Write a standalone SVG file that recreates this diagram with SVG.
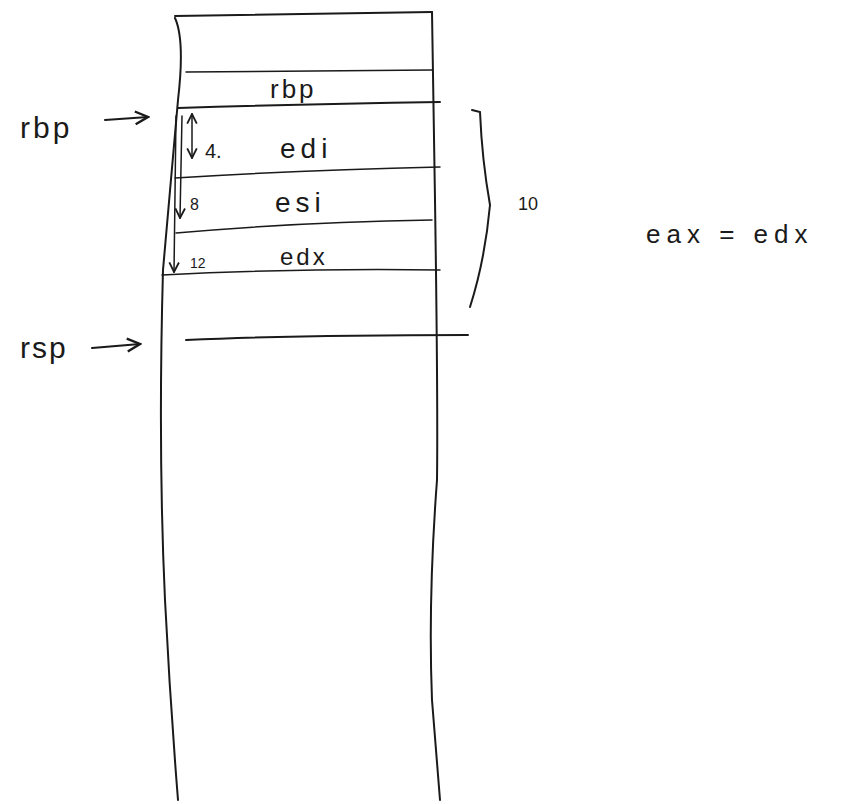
<svg xmlns="http://www.w3.org/2000/svg" width="844" height="804" viewBox="0 0 844 804">
<style>
.ln{fill:none;stroke:#1a1a1a;stroke-width:2;stroke-linecap:round}
.thin{fill:none;stroke:#1a1a1a;stroke-width:1.5;stroke-linecap:round}
.t{font-family:"Liberation Sans",Arial,sans-serif;fill:#1a1a1a}
</style>
<defs>
<marker id="ah" viewBox="0 0 10 10" refX="9" refY="5" markerWidth="8" markerHeight="8" orient="auto-start-reverse">
<path d="M1,1 L9,5 L1,9" fill="none" stroke="#1a1a1a" stroke-width="1.5"/>
</marker>
</defs>
<rect width="844" height="804" fill="#ffffff"/>
<g id="stack">
<path class="ln" d="M175,18 Q185,40 178,100 L163,270 Q158,450 165,600 Q170,700 178,800"/>
<path class="ln" d="M432,12 L435,200 Q438,400 437,480 Q428,600 432,700 L440,800"/>
<path class="ln" d="M175,16 L432,12"/>
<path class="thin" d="M186,72 L432,70"/>
<path class="ln" d="M178,108 Q300,104 440,102"/>
<path class="thin" d="M175,178 Q300,170 440,167"/>
<path class="thin" d="M176,233 Q300,222 432,220"/>
<path class="thin" d="M162,275 Q300,268 440,270"/>
<path class="ln" d="M186,340 Q300,335 468,335"/>
</g>
<g id="cells">
<text class="t" x="270" y="98" font-size="26" letter-spacing="3">rbp</text>
<text class="t" x="280" y="158" font-size="28" letter-spacing="5">edi</text>
<text class="t" x="275" y="212" font-size="28" letter-spacing="5">esi</text>
<text class="t" x="280" y="265" font-size="24" letter-spacing="3">edx</text>
</g>
<g id="offsets">
<text class="t" x="205" y="158" font-size="20">4.</text>
<text class="t" x="190" y="210" font-size="16">8</text>
<text class="t" x="190" y="268" font-size="14">12</text>
</g>
<g id="connectors">
<path class="thin" d="M192,158 L192,114" marker-start="url(#ah)" marker-end="url(#ah)"/>
<path class="thin" d="M182,116 L180,218" marker-end="url(#ah)"/>
<path class="thin" d="M176,116 L174,272" marker-end="url(#ah)"/>
<path class="ln" d="M105,120 L148,117" marker-end="url(#ah)"/>
<path class="ln" d="M92,348 L140,344" marker-end="url(#ah)"/>
<path class="ln" d="M472,110 L480,112 Q482,160 490,205 Q485,260 470,307"/>
</g>
<g id="labels">
<text class="t" x="20" y="138" font-size="30" letter-spacing="3">rbp</text>
<text class="t" x="20" y="358" font-size="30" letter-spacing="2">rsp</text>
<text class="t" x="518" y="210" font-size="18">10</text>
<text class="t" x="646" y="243" font-size="26" letter-spacing="6">eax = edx</text>
</g>
</svg>
